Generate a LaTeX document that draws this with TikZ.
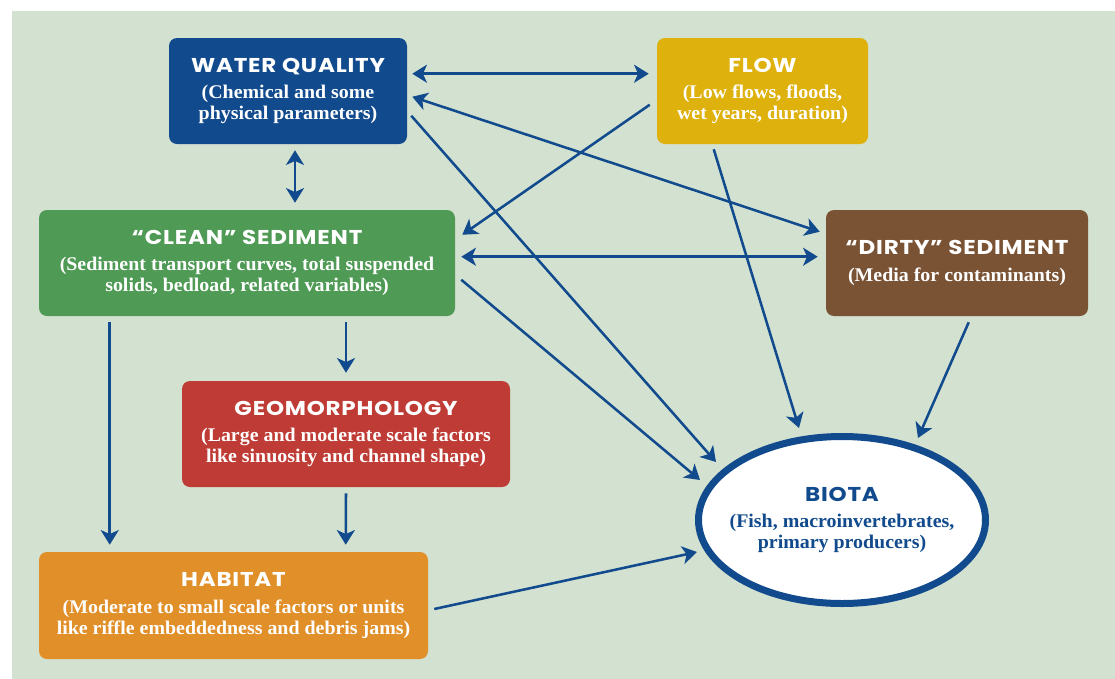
\documentclass[tikz,border=0pt]{standalone}
\usepackage{fontspec}
\setmainfont{Liberation Serif}[FakeStretch=1.03]
\newfontfamily\headfont{Poppins}[FakeStretch=1.15,LetterSpace=4]
\usetikzlibrary{arrows.meta,calc,shapes.geometric}

\definecolor{bgcol}{HTML}{D3E1D0}
\definecolor{linkblue}{HTML}{114A8D}
\definecolor{wqblue}{HTML}{114A8D}
\definecolor{flowyellow}{HTML}{DEB10C}
\definecolor{cleangreen}{HTML}{4F9A55}
\definecolor{dirtybrown}{HTML}{7A5335}
\definecolor{geored}{HTML}{BF3B35}
\definecolor{haborange}{HTML}{E18F28}

\newcommand\bodyfont{\fontsize{14.5}{15.75}\selectfont\bfseries}
\newcommand\hd[1]{{\headfont\bfseries\fontsize{15}{15.75}\selectfont #1}\\[4.25pt]}

\tikzset{
  box/.style={rectangle, rounded corners=6pt, inner sep=0pt, align=center,
    text=white, font=\bodyfont, minimum height=79.5pt},
  tipshape/.tip={Stealth[length=11pt,width=13.5pt,inset=3pt]},
  link/.style={draw=linkblue, line width=1.9pt, -tipshape},
  twoway/.style={draw=linkblue, line width=1.9pt, tipshape-tipshape},
}

\begin{document}
\begin{tikzpicture}[x=0.75pt,y=-0.75pt]
\useasboundingbox (0,0) rectangle (1115,679);
\fill[white] (0,0) rectangle (1115,679);
\fill[bgcol] (12,11) rectangle (1115,679);

% boxes
\node[box, fill=wqblue, minimum width=178.5pt] (wq) at (288,91)
  {\hd{WATER QUALITY}(Chemical and some\\physical parameters)};
\node[box, fill=flowyellow, minimum width=158.25pt] (flow) at (762.5,91)
  {\hd{FLOW}(Low flows, floods,\\wet years, duration)};
\node[box, fill=cleangreen, minimum width=312pt] (clean) at (247,263)
  {\hd{“CLEAN” SEDIMENT}(Sediment transport curves, total suspended\\solids, bedload, related variables)};
\node[box, fill=dirtybrown, minimum width=196.5pt] (dirty) at (957,263)
  {\hd{“DIRTY” SEDIMENT}(Media for contaminants)};
\node[box, fill=geored, minimum width=246pt] (geo) at (346,434)
  {\hd{GEOMORPHOLOGY}(Large and moderate scale factors\\like sinuosity and channel shape)};
\node[box, fill=haborange, minimum width=291.75pt, minimum height=80.25pt] (hab) at (233.5,605.5)
  {\hd{HABITAT}(Moderate to small scale factors or units\\like riffle embeddedness and debris jams)};

% the biota ellipse, with its label set on top of it
\node[ellipse, draw=wqblue, line width=5.25pt, fill=white, inner sep=0pt,
      minimum width=215.25pt, minimum height=125.25pt] (biota) at (842,520) {};
\node[align=center, inner sep=0pt, text=wqblue, font=\bodyfont] (biotalabel) at (biota.center)
  {\hd{BIOTA}(Fish, macroinvertebrates,\\primary producers)};

% connectors
\draw[twoway] ($(wq.north east)+(5,36)$) -- ($(flow.north west)+(-8,36)$);
\draw[twoway] ($(wq.north east)+(5,59)$) -- ($(dirty.north west)+(-6,22)$);
\draw[link] ($(wq.north east)+(4,78)$) -- ($(biota.center)+(-126,-58)$);
\draw[link] ($(flow.north west)+(-7,67)$) -- ($(clean.north east)+(7,25)$);
\draw[link] ($(flow.south west)+(57,5)$) -- ($(biota.center)+(-43,-92)$);
\draw[twoway] ($(wq.south)+(7,6)$) -- ($(clean.north)+(48,-7)$);
\draw[twoway] ($(clean.north east)+(6,47)$) -- ($(dirty.north west)+(-8,47)$);
\draw[link] ($(clean.north east)+(6,70)$) -- ($(biota.center)+(-142,-40)$);
\draw[link] ($(clean.south)+(99,6)$) -- ($(geo.north)+(0,-8)$);
\draw[link] ($(clean.south west)+(71,6)$) -- ($(hab.north west)+(71,-7)$);
\draw[link] ($(geo.south)+(0,6)$) -- ($(hab.north west)+(307,-7)$);
\draw[link] ($(dirty.south west)+(143,6)$) -- ($(biota.center)+(76,-82)$);
\draw[link] ($(hab.east)+(6,3.5)$) -- ($(biota.center)+(-145,32)$);
\end{tikzpicture}
\end{document}
